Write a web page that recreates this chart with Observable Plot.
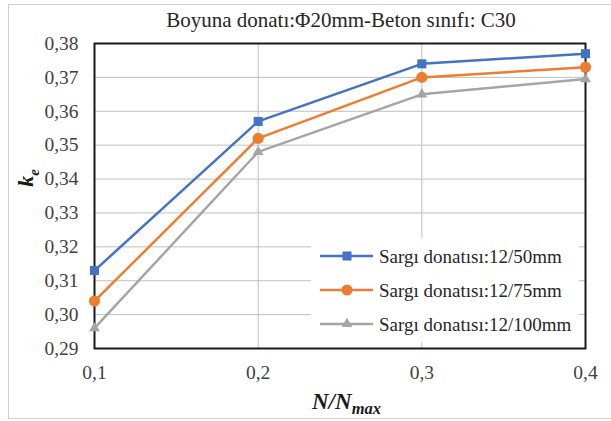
<!DOCTYPE html>
<html><head><meta charset="utf-8">
<script src="https://cdn.jsdelivr.net/npm/d3@7"></script>
<script src="https://cdn.jsdelivr.net/npm/@observablehq/plot@0.6"></script>
<style>
body{margin:0;background:#fff}
#wrap{position:relative;width:611px;height:421px;overflow:hidden;font-family:'Liberation Serif','Times New Roman',Times,'DejaVu Serif',serif}
#wrap>*{position:absolute;left:0;top:0}
#wrap svg, #wrap svg text, #wrap svg tspan{font-family:'Liberation Serif','Times New Roman',Times,'DejaVu Serif',serif !important}
</style></head><body><div id="wrap"></div>
<script>
const titleText = "Boyuna donatı:Φ20mm-Beton sınıfı: C30";
const xValues = [0.1, 0.2, 0.3, 0.4];
const seriesNames = ["Sargı donatısı:12/50mm", "Sargı donatısı:12/75mm", "Sargı donatısı:12/100mm"];
const series1 = [0.313, 0.357, 0.374, 0.377];
const series2 = [0.304, 0.352, 0.370, 0.373];
const series3 = [0.296, 0.348, 0.365, 0.3695];
const xTicks = [0.1, 0.2, 0.3, 0.4];
const yTicks = [0.29, 0.30, 0.31, 0.32, 0.33, 0.34, 0.35, 0.36, 0.37, 0.38];

const colors = ["#4472C4", "#ED7D31", "#A5A5A5"];
const symbols = ["square", "circle", "triangle"];
const markerR = [5.1, 5.6, 4];

const data = [];
[series1, series2, series3].forEach((s, i) => s.forEach((v, j) => data.push({series: seriesNames[i], x: xValues[j], y: v})));

const fmtX = d => d.toFixed(1).replace(".", ",");
const fmtY = d => d.toFixed(2).replace(".", ",");
const serif = "'Liberation Serif', 'Times New Roman', Times, 'DejaVu Serif', serif";

const plot = Plot.plot({
  width: 611, height: 421,
  marginLeft: 94, marginRight: 26, marginTop: 43, marginBottom: 73,
  style: {fontFamily: serif, fontSize: "19.5px", color: "#404040", background: "transparent", overflow: "visible"},
  x: {domain: [0.1, 0.4]},
  y: {domain: [0.29, 0.38]},
  color: {domain: seriesNames, range: colors},
  symbol: {domain: seriesNames, range: symbols},
  marks: [
    Plot.gridY(yTicks, {stroke: "#bfbfbf", strokeOpacity: 1, strokeWidth: 1}),
    Plot.gridX(xTicks, {stroke: "#bfbfbf", strokeOpacity: 1, strokeWidth: 1}),
    Plot.axisY(yTicks, {tickSize: 0, tickPadding: 16, tickFormat: fmtY, label: null, fontSize: 19.5, fontFamily: serif}),
    Plot.axisX(xTicks, {tickSize: 0, tickPadding: 17, tickFormat: fmtX, label: null, fontSize: 19.5, fontFamily: serif}),
    Plot.frame({stroke: "#1a1a1a", strokeWidth: 2}),
    Plot.line(data, {x: "x", y: "y", z: "series", stroke: "series", strokeWidth: 2.5}),
    ...seriesNames.map((name, i) => Plot.dot(data.filter(d => d.series === name), {x: "x", y: "y", symbol: "series", fill: "series", r: markerR[i], stroke: "none"}))
  ]
});

const wrap = document.getElementById("wrap");
wrap.appendChild(plot);

const ov = d3.create("svg").attr("width", 611).attr("height", 421).attr("font-family", serif);

// outer chart border
ov.append("rect").attr("x", 8.5).attr("y", 4.5).attr("width", 640).attr("height", 414)
  .attr("fill", "none").attr("stroke", "#d0d0d0").attr("stroke-width", 1);

// title
ov.append("text").attr("x", 341).attr("y", 27).attr("text-anchor", "middle")
  .attr("font-size", 21).attr("fill", "#262626").text(titleText);

// y label k_e
const yl = ov.append("text").attr("transform", "translate(33,178) rotate(-90)")
  .attr("text-anchor", "middle").attr("font-size", 22).attr("font-weight", "bold")
  .attr("font-style", "italic").attr("fill", "#1a1a1a");
yl.append("tspan").text("k");
yl.append("tspan").attr("font-size", 15).attr("dy", 6).text("e");

// x label N/N_max
const xl = ov.append("text").attr("x", 312).attr("y", 409)
  .attr("font-size", 23).attr("font-weight", "bold")
  .attr("font-style", "italic").attr("fill", "#1a1a1a");
xl.append("tspan").text("N/N");
xl.append("tspan").attr("font-size", 16.5).attr("dy", 5).text("max");

// legend
const lg = ov.append("g");
lg.append("rect").attr("x", 311).attr("y", 238).attr("width", 268).attr("height", 104).attr("fill", "#fff");
seriesNames.forEach((name, i) => {
  const cy = 256 + i * 34;
  lg.append("line").attr("x1", 320).attr("x2", 373).attr("y1", cy).attr("y2", cy)
    .attr("stroke", colors[i]).attr("stroke-width", 2.5);
  const sym = {square: d3.symbolSquare, circle: d3.symbolCircle, triangle: d3.symbolTriangle}[symbols[i]];
  lg.append("path").attr("d", d3.symbol(sym, Math.PI * markerR[i] * markerR[i])())
    .attr("transform", `translate(347,${cy})`).attr("fill", colors[i]);
  lg.append("text").attr("x", 379).attr("y", cy + 6.5).attr("font-size", 19)
    .attr("fill", "#262626").text(name);
});

wrap.appendChild(ov.node());
</script>
</body></html>
